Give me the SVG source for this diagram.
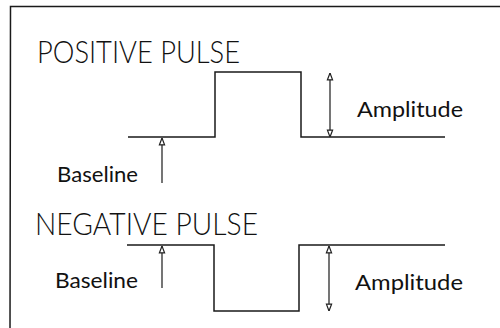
<svg xmlns="http://www.w3.org/2000/svg" width="500" height="328" viewBox="0 0 500 328">
<defs>
<marker id="ah" viewBox="0 0 10 10" refX="9.5" refY="5" markerWidth="8" markerHeight="8" markerUnits="userSpaceOnUse" orient="auto-start-reverse">
<path d="M1,1.8 L9.5,5 L1,8.2 Z" fill="#fff" stroke="#222" stroke-width="1.5"/>
</marker>
<style>
.ln{fill:none;stroke:#1a1a1a;stroke-width:1.5}
.ar{fill:none;stroke:#1a1a1a;stroke-width:1.2}
.tt{font-family:Lato,"Liberation Sans",sans-serif;font-size:31px;font-weight:300;fill:#111}
.lb{font-family:Lato,"Liberation Sans",sans-serif;font-size:22px;fill:#111}
</style>
</defs>
<rect width="500" height="328" fill="#fff"/>
<g id="frame">
<path class="ln" d="M10,328 L10.5,6.5 L500,6.5"/>
</g>
<g id="positive-pulse">
<path class="ln" d="M128,137 L215,137 L215,72 L301,72 L301,137 L445,137"/>
<text class="tt" x="37" y="63" textLength="203" lengthAdjust="spacingAndGlyphs">POSITIVE PULSE</text>
<text class="lb" x="57" y="182" textLength="81" lengthAdjust="spacingAndGlyphs">Baseline</text>
<text class="lb" x="357" y="117" textLength="106" lengthAdjust="spacingAndGlyphs">Amplitude</text>
</g>
<g id="negative-pulse">
<path class="ln" d="M127,245 L214,245 L214,311 L299,311 L299,245 L445,245"/>
<text class="tt" x="35" y="235" textLength="223" lengthAdjust="spacingAndGlyphs">NEGATIVE PULSE</text>
<text class="lb" x="55" y="288" textLength="83" lengthAdjust="spacingAndGlyphs">Baseline</text>
<text class="lb" x="355" y="290" textLength="108" lengthAdjust="spacingAndGlyphs">Amplitude</text>
</g>
<g id="connectors">
<line class="ar" x1="162" y1="183" x2="162" y2="138" marker-end="url(#ah)"/>
<line class="ar" x1="330" y1="73" x2="330" y2="137" marker-start="url(#ah)" marker-end="url(#ah)"/>
<line class="ar" x1="162" y1="288" x2="162" y2="246" marker-end="url(#ah)"/>
<line class="ar" x1="329" y1="246" x2="329" y2="311" marker-start="url(#ah)" marker-end="url(#ah)"/>
</g>
</svg>
